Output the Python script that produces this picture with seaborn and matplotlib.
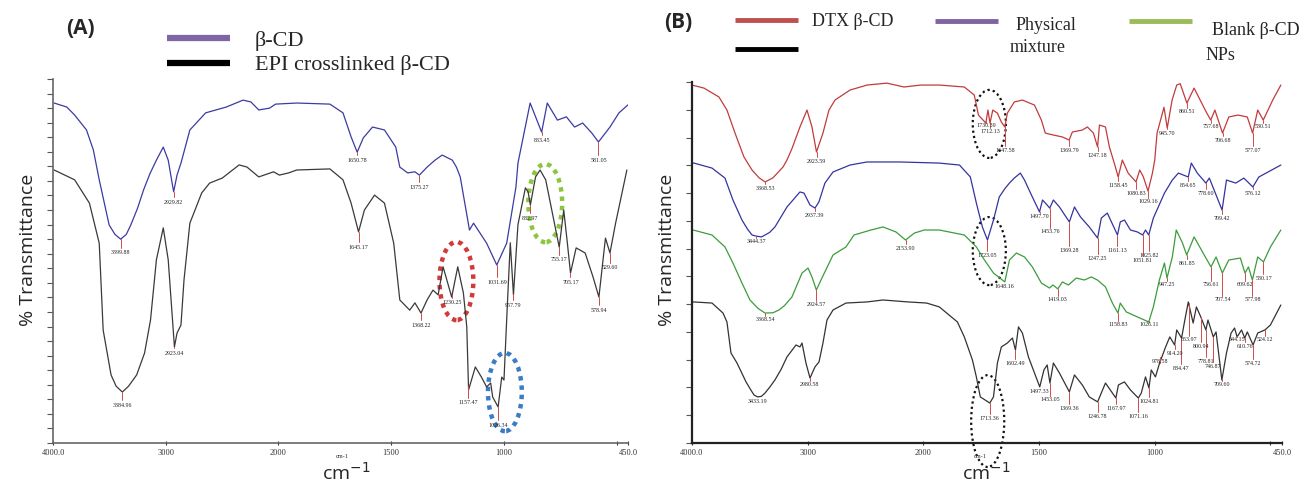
import numpy as np
import pandas as pd
import matplotlib
matplotlib.use("Agg")
import matplotlib.pyplot as plt
import seaborn as sns
from matplotlib.patches import Ellipse
from matplotlib.lines import Line2D

# ---------------- panel A data (wavenumber cm-1, % transmittance) ----------------
a_bcd_wn = [3990, 3878, 3808, 3703, 3642, 3590, 3502, 3450, 3400, 3350, 3310, 3250, 3197, 3140, 3083,
            3022, 2978, 2930, 2900, 2865, 2786, 2646, 2463, 2314, 2245, 2175, 2079, 2026, 1919, 1772,
            1714, 1678, 1651, 1624, 1583, 1530, 1480, 1462, 1427, 1395, 1375, 1341, 1306, 1274, 1229,
            1211, 1194, 1153, 1135, 1077, 1032, 988, 947, 938, 884, 833, 808, 763, 723, 687,
            651, 611, 581, 530, 490, 450]
a_bcd_t = [93.4, 92.3, 90.1, 86.0, 80.5, 72.3, 59.9, 57.3, 56.0, 57.3, 59.9, 64.5, 69.5, 74.0, 77.7,
           81.3, 77.7, 69.0, 73.6, 76.9, 86.0, 90.7, 92.3, 94.2, 93.7, 91.5, 92.0, 93.1, 93.4, 93.1,
           90.7, 84.1, 79.9, 83.8, 86.8, 86.0, 81.3, 75.8, 74.2, 74.5, 73.6, 75.8, 77.7, 79.1, 77.7,
           75.8, 73.1, 58.5, 60.4, 54.9, 48.9, 54.9, 70.3, 76.9, 93.4, 85.4, 93.4, 88.7, 89.6, 86.8,
           87.9, 85.2, 82.7, 86.8, 90.7, 92.9]
a_bcd_peaks = [3399.88, 2929.82, 1650.78, 1375.27, 1031.69, 833.45, 581.05]
a_bcd_label_t = [52.2, 66.2, 77.7, 70.3, 44.2, 83.2, 77.7]

a_epi_wn = [3990, 3808, 3677, 3590, 3555, 3485, 3440, 3385, 3330, 3258, 3188, 3135, 3083, 3022, 2978,
            2923, 2900, 2865, 2838, 2786, 2681, 2611, 2498, 2349, 2279, 2175, 2044, 1996, 1955, 1919,
            1772, 1714, 1678, 1645, 1619, 1574, 1530, 1489, 1462, 1418, 1395, 1368, 1341, 1315, 1292,
            1270, 1232, 1205, 1180, 1165, 1157, 1127, 1100, 1077, 1059, 1050, 1026, 1010, 1000, 985,
            972, 958, 938, 905, 893, 883, 860, 840, 815, 755, 735, 718, 705, 680, 640,
            605, 579, 550, 530, 505, 455]
a_epi_t = [75.0, 72.3, 65.9, 54.9, 31.0, 18.7, 15.6, 14.0, 15.6, 18.7, 24.7, 33.8, 50.3, 59.1, 50.3,
           26.4, 30.2, 32.4, 44.8, 60.4, 68.7, 71.4, 72.8, 76.4, 75.8, 73.1, 74.5, 73.6, 74.2, 75.0,
           75.3, 72.3, 65.9, 58.0, 64.0, 68.1, 65.9, 54.9, 39.3, 36.5, 38.5, 35.7, 39.3, 42.0, 40.7,
           48.4, 40.1, 48.4, 41.2, 31.9, 14.6, 20.9, 18.1, 15.4, 16.5, 12.6, 9.9, 18.1, 17.3, 38.0,
           55.0, 40.7, 60.0, 70.1, 69.0, 65.4, 73.1, 75.0, 72.3, 53.8, 64.0, 54.4, 46.7, 53.6, 52.2,
           45.6, 40.1, 56.3, 52.2, 60.4, 75.0]
a_epi_peaks = [3384.96, 2923.04, 1645.17, 1368.22, 1230.25, 1157.47, 1026.34, 957.79, 882.97,
               755.17, 705.17, 578.94, 529.60]
a_epi_label_t = [10.4, 24.7, 53.8, 32.4, 38.5, 11.0, 4.9, 37.9, 61.8, 50.3, 44.2, 36.5, 48.1]

# ---------------- panel B data ----------------
b_dtx_wn = [4000, 3896, 3767, 3698, 3628, 3551, 3481, 3420, 3368, 3300, 3213, 3179, 3136, 3067, 3006,
            2963, 2924, 2868, 2816, 2764, 2634, 2487, 2315, 2168, 2022, 1931, 1823, 1780, 1762, 1730,
            1721, 1712, 1700, 1680, 1663, 1648, 1637, 1607, 1572, 1520, 1490, 1473, 1438, 1399, 1370,
            1356, 1313, 1291, 1265, 1247, 1239, 1213, 1196, 1170, 1158, 1140, 1115, 1081, 1065, 1050,
            1029, 1010, 1000, 990, 960, 946, 925, 905, 890, 861, 830, 775, 758, 740, 707,
            680, 640, 600, 577, 555, 531, 490, 455]
b_dtx_t = [128.9, 127.8, 124.6, 119.9, 111.6, 103.0, 98.3, 95.5, 94.0, 95.5, 99.4, 101.9, 106.0, 113.8, 119.9,
           113.8, 104.8, 111.6, 119.9, 123.5, 127.1, 128.9, 129.6, 128.2, 128.9, 128.9, 128.2, 125.3, 118.1, 115.2,
           119.9, 115.2, 119.9, 118.8, 115.6, 113.8, 118.8, 122.8, 123.5, 121.7, 116.3, 111.6, 110.9, 110.2, 109.1,
           112.0, 112.7, 113.8, 111.6, 106.6, 114.5, 113.8, 106.6, 99.4, 95.8, 101.9, 97.2, 94.0, 98.3, 96.0,
           90.7, 97.2, 101.9, 111.6, 120.9, 113.4, 123.5, 128.9, 129.4, 122.4, 127.8, 118.8, 116.3, 119.9, 111.6,
           117.4, 118.1, 117.4, 111.6, 119.9, 116.3, 123.5, 128.9]
b_dtx_peaks = [3368.53, 2923.59, 1730.39, 1712.13, 1647.58, 1369.79, 1247.18, 1158.45, 1080.83,
               1029.16, 945.70, 860.51, 757.68, 706.68, 577.07, 530.51]
b_dtx_label_t = [91.8, 101.5, 114.5, 112.0, 105.5, 105.5, 103.7, 92.9, 90.0, 86.8, 111.6, 119.2,
                 113.8, 109.1, 105.5, 113.8]

b_phys_wn = [4000, 3983, 3827, 3715, 3646, 3568, 3520, 3481, 3444, 3400, 3369, 3330, 3283, 3179, 3067,
             3032, 2980, 2937, 2903, 2851, 2781, 2634, 2487, 2202, 1931, 1844, 1797, 1771, 1745, 1723,
             1697, 1672, 1646, 1628, 1607, 1581, 1563, 1529, 1498, 1485, 1465, 1454, 1438, 1412, 1369,
             1347, 1321, 1283, 1247, 1231, 1205, 1161, 1149, 1131, 1105, 1075, 1052, 1040, 1026, 1006,
             958, 924, 898, 855, 842, 816, 779, 764, 709, 690, 650, 615, 576, 550, 510, 455]
b_phys_t = [100.8, 100.8, 99.0, 95.4, 87.5, 80.3, 77.0, 74.9, 74.5, 74.2, 74.9, 75.8, 77.8, 85.0, 90.4,
            90.0, 85.7, 84.6, 86.8, 93.6, 97.6, 100.1, 101.2, 101.2, 100.8, 100.1, 95.8, 86.4, 77.8, 73.1,
            80.3, 88.6, 91.8, 93.6, 95.4, 97.2, 94.7, 88.6, 83.2, 87.5, 85.7, 84.6, 87.5, 85.0, 79.6,
            85.0, 81.4, 77.8, 73.8, 81.0, 82.8, 74.9, 79.6, 80.3, 76.7, 76.0, 74.9, 76.7, 74.9, 81.0,
            90.0, 94.7, 97.2, 95.8, 100.8, 97.2, 93.6, 95.4, 83.9, 94.7, 93.6, 95.4, 92.2, 95.8, 97.6, 100.1]
b_phys_peaks = [3444.37, 2937.39, 1723.05, 1497.70, 1453.76, 1369.28, 1247.25, 1161.13, 1051.81,
                1025.82, 854.65, 778.60, 709.42, 576.12]
b_phys_label_t = [72.4, 82.1, 67.7, 81.4, 76.0, 69.5, 66.6, 69.5, 65.9, 67.7, 92.9, 90.0, 81.0, 90.0]

b_blank_wn = [3990, 3827, 3715, 3646, 3568, 3499, 3430, 3369, 3300, 3248, 3200, 3136, 3049, 2997, 2963,
              2925, 2885, 2781, 2669, 2600, 2453, 2349, 2237, 2154, 2078, 1996, 1931, 1823, 1771, 1736,
              1697, 1648, 1628, 1598, 1563, 1529, 1490, 1455, 1440, 1419, 1399, 1373, 1339, 1304, 1274,
              1248, 1213, 1183, 1159, 1149, 1123, 1075, 1026, 1006, 980, 958, 947, 924, 907, 880,
              862, 830, 757, 735, 708, 680, 630, 610, 595, 578, 555, 530, 500, 455]
b_blank_t = [76.7, 74.9, 70.6, 64.8, 57.6, 51.5, 48.5, 46.8, 46.9, 47.9, 49.5, 52.6, 61.2, 63.0, 59.8,
             55.1, 58.7, 67.7, 70.6, 74.9, 76.7, 77.8, 76.0, 73.1, 75.6, 76.7, 76.7, 74.9, 70.6, 65.9,
             61.2, 58.0, 65.9, 68.4, 67.0, 63.4, 57.6, 55.8, 56.9, 55.5, 58.0, 56.9, 59.4, 58.7, 59.8,
             58.7, 56.2, 50.4, 46.8, 50.4, 47.2, 45.4, 43.6, 49.0, 58.7, 64.8, 59.4, 67.0, 76.7, 72.0,
             67.7, 74.2, 63.4, 67.0, 61.2, 65.9, 66.6, 61.2, 63.4, 58.7, 67.0, 65.2, 70.6, 76.7]
b_blank_peaks = [3368.54, 2924.57, 2153.90, 1648.16, 1419.03, 1158.83, 1026.11, 947.25, 861.85,
                 756.61, 707.54, 609.62, 577.98, 530.17]
b_blank_label_t = [44.3, 49.7, 70.2, 56.2, 51.5, 42.5, 42.5, 56.9, 64.8, 56.9, 51.5, 56.9, 51.5, 59.4]

b_nps_wn = [3990, 3827, 3732, 3698, 3663, 3611, 3533, 3490, 3464, 3433, 3400, 3369, 3330, 3283, 3230,
            3179, 3101, 3067, 3049, 3015, 2980, 2937, 2902, 2868, 2833, 2781, 2669, 2487, 2349, 2133,
            1986, 1931, 1879, 1853, 1823, 1788, 1771, 1754, 1713, 1697, 1680, 1663, 1637, 1615, 1602,
            1589, 1572, 1546, 1497, 1479, 1465, 1453, 1438, 1412, 1369, 1347, 1313, 1283, 1247, 1231,
            1213, 1168, 1157, 1131, 1105, 1071, 1058, 1040, 1025, 1015, 997, 979, 953, 935, 914,
            905, 884, 870, 855, 834, 820, 801, 779, 770, 747, 735, 710, 690, 670, 655,
            644, 625, 611, 600, 575, 555, 524, 500, 455]
b_nps_t = [50.8, 50.4, 46.8, 43.6, 32.4, 28.8, 22.0, 19.0, 17.3, 16.6, 16.8, 18.0, 20.0, 22.7, 26.5,
           31.0, 35.3, 34.6, 36.0, 28.8, 23.4, 27.4, 29.2, 36.0, 44.3, 47.9, 50.4, 50.8, 51.5, 50.8,
           50.4, 49.0, 45.4, 43.6, 38.2, 29.9, 23.8, 16.6, 14.4, 16.6, 28.8, 34.6, 36.0, 37.8, 33.5,
           41.8, 39.6, 31.0, 20.2, 26.3, 28.1, 21.6, 28.8, 25.2, 18.4, 24.5, 20.9, 16.6, 14.8, 18.0,
           21.6, 16.2, 20.9, 22.0, 19.1, 16.2, 18.0, 23.8, 19.8, 26.3, 23.8, 28.8, 34.6, 38.2, 35.3,
           40.7, 37.8, 44.3, 50.8, 43.2, 49.0, 45.4, 40.7, 44.3, 38.2, 40.0, 22.7, 32.4, 39.6, 41.4,
           38.2, 40.7, 37.8, 40.0, 35.3, 39.6, 40.7, 42.5, 49.7]
b_nps_peaks = [3433.19, 2980.58, 1713.36, 1602.49, 1497.33, 1453.05, 1369.36, 1246.78, 1167.97,
               1071.16, 1024.81, 978.58, 914.20, 884.47, 853.97, 800.94, 778.81, 746.87, 709.60,
               644.15, 610.76, 574.72, 524.12]
b_nps_label_t = [14.8, 20.9, 9.0, 28.8, 18.4, 15.5, 12.6, 9.4, 12.6, 9.4, 14.8, 29.2, 32.4, 27.0,
                 37.1, 34.6, 29.2, 27.4, 20.9, 37.1, 34.6, 28.8, 37.1]

x_ticks = [4000, 3000, 2000, 1500, 1000, 500, 450]
x_ticklabels = ["4000.0", "3000", "2000", "1500", "1000", "", "450.0"]

PEAK_RED = "#d24a4a"


def fwd(wn):
    # spectrometer axis: scale doubles below 2000 cm-1
    wn = np.asarray(wn, dtype=float)
    return np.where(wn > 2000, 2000 + (wn - 2000) / 2.0, wn)


def inv(u):
    u = np.asarray(u, dtype=float)
    return np.where(u > 2000, 2000 + (u - 2000) * 2.0, u)


def draw_spectrum(ax, wn, t, color, peaks, label_t, gap):
    df = pd.DataFrame({"wn": wn, "T": t})
    sns.lineplot(data=df, x="wn", y="T", ax=ax, color=color, lw=0.9,
                 sort=False, estimator=None, solid_joinstyle="round")
    wn_a = np.asarray(wn, dtype=float)
    t_a = np.asarray(t, dtype=float)
    order = np.argsort(wn_a)
    for p, lt in zip(peaks, label_t):
        yc = np.interp(p, wn_a[order], t_a[order])
        ax.plot([p, p], [yc, lt + gap], color=PEAK_RED, lw=0.7)
        ax.text(p, lt, f"{p:.2f}", ha="center", va="center", fontsize=4.3,
                family="Liberation Serif", color="#222222")


def style_axis(ax, ymax, ystep, spine_color, spine_lw):
    ax.set_xscale("function", functions=(fwd, inv))
    ax.set_xlim(4000, 450)
    ax.set_ylim(0, ymax)
    ax.set_xticks(x_ticks)
    ax.set_xticklabels(x_ticklabels, fontsize=6, family="Liberation Serif")
    ax.set_yticks(np.arange(0, ymax + 0.1, ystep))
    ax.set_yticklabels([])
    ax.minorticks_off()
    ax.tick_params(axis="x", direction="inout", length=3, width=0.8, pad=3, colors="#333333")
    ax.tick_params(axis="y", direction="out", length=4, width=0.8, colors="#555555")
    for side in ["top", "right"]:
        ax.spines[side].set_visible(False)
    for side in ["left", "bottom"]:
        ax.spines[side].set_color(spine_color)
        ax.spines[side].set_linewidth(spine_lw)
    ax.set_xlabel("")
    ax.set_ylabel("")
    ax.patch.set_alpha(0)


sns.set_theme(style="ticks")
plt.rcParams["font.family"] = ["DejaVu Sans"]

W, H = 1304, 486
fig = plt.figure(figsize=(W / 100, H / 100), dpi=100)
axA = fig.add_axes([53 / W, 43 / H, 575 / W, 364 / H])
axB = fig.add_axes([692 / W, 43 / H, 590 / W, 361 / H])

# panel A
draw_spectrum(axA, a_bcd_wn, a_bcd_t, "#3b3ba3", a_bcd_peaks, a_bcd_label_t, 1.3)
draw_spectrum(axA, a_epi_wn, a_epi_t, "#3a3a3a", a_epi_peaks, a_epi_label_t, 1.3)
style_axis(axA, 100, 4, "#666666", 1.2)

for (cx, cy, col) in [(1211, 44.5, "#d23a3a"), (817, 65.9, "#8cc63e"), (996, 14.0, "#3b7dc4")]:
    axA.add_patch(Ellipse((cx, cy), width=150, height=21.5, fill=False, ec=col, lw=3.2,
                          ls=(0, (1, 1.1)), clip_on=False))

# panel B
draw_spectrum(axB, b_dtx_wn, b_dtx_t, "#c23b3b", b_dtx_peaks, b_dtx_label_t, 1.6)
draw_spectrum(axB, b_phys_wn, b_phys_t, "#34349e", b_phys_peaks, b_phys_label_t, 1.6)
draw_spectrum(axB, b_blank_wn, b_blank_t, "#3c9c3c", b_blank_peaks, b_blank_label_t, 1.6)
draw_spectrum(axB, b_nps_wn, b_nps_t, "#333333", b_nps_peaks, b_nps_label_t, 1.6)
style_axis(axB, 130, 10, "#222222", 1.6)

for (cx, cy, h) in [(1715, 114.9, 24.5), (1715, 69.1, 24.5), (1722, 7.9, 33.1)]:
    axB.add_patch(Ellipse((cx, cy), width=143, height=h, fill=False, ec="#111111", lw=1.6,
                          ls=(0, (1, 1.4)), clip_on=False))

# panel tags
fig.text(80 / W, 1 - 28 / H, "(A)", ha="center", va="center", fontsize=15,
         fontweight="bold", family="Open Sans")
fig.text(678 / W, 1 - 22 / H, "(B)", ha="center", va="center", fontsize=15,
         fontweight="bold", family="Open Sans")

# y labels
fig.text(28 / W, 1 - 250 / H, "% Transmittance", rotation=90, ha="center", va="center",
         fontsize=14, family="Open Sans")
fig.text(667 / W, 1 - 250 / H, "% Transmittance", rotation=90, ha="center", va="center",
         fontsize=14, family="Open Sans")

# x labels (small instrument label plus big one)
for cx in [342, 980]:
    fig.text(cx / W, 1 - 456 / H, "cm-1", ha="center", va="center", fontsize=4.5,
             family="Liberation Serif")
fig.text(346 / W, 2 / H, "cm$^{-1}$", ha="center", va="bottom", fontsize=14, family="Open Sans")
fig.text(986 / W, 2 / H, "cm$^{-1}$", ha="center", va="bottom", fontsize=14, family="Open Sans")


def legend_line(x0, x1, y, color, lw):
    fig.add_artist(Line2D([x0 / W, x1 / W], [1 - y / H, 1 - y / H], color=color, lw=lw,
                          transform=fig.transFigure, solid_capstyle="butt"))


def legend_text(x, y, s, size):
    fig.text(x / W, 1 - y / H, s, ha="left", va="center", fontsize=size, family="Liberation Serif")


# legend A
legend_line(167, 230, 38, "#7d66a3", 4.5)
legend_line(167, 230, 63, "#000000", 4.5)
legend_text(255, 41, "β-CD", 16)
legend_text(255, 65, "EPI crosslinked β-CD", 16)

# legend B
legend_line(735, 798, 20, "#c0504d", 3.5)
legend_line(735, 798, 49, "#000000", 3.5)
legend_line(935, 998, 21, "#8064a2", 3.5)
legend_line(1129, 1192, 21, "#9bbb59", 3.5)
legend_text(812, 22, "DTX β-CD", 13)
legend_text(1016, 26, "Physical", 13)
legend_text(1010, 48, "mixture", 13)
legend_text(1212, 30, "Blank β-CD", 13)
legend_text(1206, 56, "NPs", 13)

fig.savefig("out.png", dpi=100)
